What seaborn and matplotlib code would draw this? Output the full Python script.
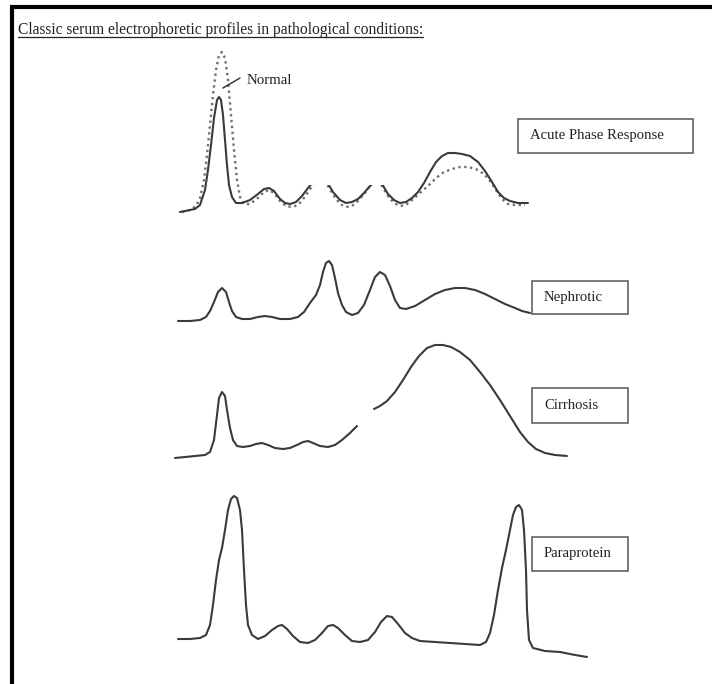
import numpy as np
import pandas as pd
import matplotlib.pyplot as plt
import seaborn as sns
from matplotlib.patches import Rectangle

# densitometry traces: x = migration position, h = signal above baseline
acute_x = [180, 185, 190, 195, 200, 205, 208, 211, 214, 217, 219, 221, 223, 225, 227, 229, 232, 236,
           242, 250, 258, 264, 269, 274, 280, 285, 290, 296, 302, 308, 313, 320, 327, 333, 340, 346,
           352, 358, 364, 370, 376, 382, 388, 394, 400, 406, 412, 418, 424, 430, 436, 442, 448, 455,
           462, 470, 478, 485, 492, 498, 504, 510, 518, 528]
acute_h = [0, 1, 2, 3, 7, 22, 42, 67, 94, 112, 115, 112, 97, 72, 47, 27, 15, 9,
           9, 12, 18, 23, 24, 21, 13, 9, 8, 10, 16, 24, 30, 34, 30, 20, 12, 9,
           10, 13, 19, 26, 32, 28, 18, 12, 9, 10, 14, 20, 29, 40, 50, 56, 59, 59,
           58, 56, 50, 41, 30, 20, 14, 11, 9, 9]

normal_x = [182, 190, 196, 200, 204, 207, 210, 213, 216, 219, 222, 225, 228, 231, 234, 237, 240, 244,
            250, 258, 264, 269, 274, 280, 286, 292, 298, 304, 310, 316, 322, 328, 334, 340, 346, 352,
            358, 364, 370, 376, 382, 388, 394, 400, 406, 412, 420, 428, 436, 444, 452, 460, 468, 476,
            484, 490, 496, 502, 508, 515, 525]
normal_h = [0, 2, 6, 14, 32, 57, 87, 117, 142, 157, 160, 154, 132, 97, 62, 32, 15, 8,
            8, 14, 20, 22, 19, 11, 6, 5, 7, 14, 23, 30, 32, 26, 16, 8, 5, 6,
            11, 18, 26, 31, 26, 16, 9, 6, 7, 12, 19, 26, 34, 40, 43, 45, 45, 43,
            38, 31, 22, 13, 8, 7, 7]

nephro_x = [178, 190, 200, 206, 210, 214, 218, 222, 226, 229, 232, 236, 242, 250, 258, 265, 272, 280,
            290, 298, 304, 310, 316, 320, 323, 326, 329, 332, 335, 338, 342, 346, 352, 358, 364, 370,
            375, 380, 385, 390, 395, 400, 406, 415, 425, 435, 445, 455, 465, 475, 485, 495, 505, 515,
            522, 530]
nephro_h = [0, 0, 1, 4, 10, 19, 29, 33, 29, 19, 10, 4, 2, 2, 4, 5, 4, 2,
            2, 4, 9, 18, 26, 36, 49, 58, 60, 56, 43, 28, 16, 9, 6, 8, 16, 31,
            44, 49, 46, 35, 21, 13, 12, 15, 21, 27, 31, 33, 33, 31, 27, 22, 17, 13,
            10, 8]

# NaN marks the gap in the scanned trace
cirr_x = [175, 185, 195, 205, 210, 214, 217, 219, 222, 225, 227, 230, 233, 237, 243, 250, 256, 262,
          268, 275, 283, 290, 297, 303, 308, 313, 320, 328, 335, 342, 350, 357, 365, 374, 380, 387,
          395, 403, 411, 419, 427, 435, 443, 451, 460, 470, 480, 490, 500, 510, 520, 528, 536, 545,
          555, 567]
cirr_h = [0, 1, 2, 3, 6, 18, 43, 60, 66, 62, 48, 30, 18, 12, 11, 12, 14, 15,
          13, 10, 9, 10, 13, 16, 17, 15, 12, 11, 13, 18, 25, 32, np.nan, 49, 52, 57,
          66, 78, 91, 102, 110, 113, 113, 111, 106, 98, 86, 73, 58, 42, 26, 16, 9, 5,
          3, 2]

para_x = [178, 190, 200, 206, 210, 213, 216, 219, 222, 225, 228, 231, 234, 237, 240, 242, 244, 246,
          248, 252, 258, 265, 272, 278, 282, 287, 293, 300, 308, 315, 322, 328, 333, 338, 345, 352,
          360, 368, 375, 381, 387, 392, 398, 405, 412, 420, 435, 450, 465, 480, 486, 490, 494, 498,
          502, 506, 510, 513, 516, 519, 522, 524, 526, 527, 529, 533, 545, 560, 575, 587]
para_h = [0, 0, 1, 4, 14, 34, 59, 79, 91, 109, 129, 140, 143, 141, 129, 109, 69, 34,
          14, 4, 0, 3, 9, 13, 14, 10, 3, -3, -4, -1, 6, 13, 14, 11, 4, -2,
          -3, -1, 7, 17, 23, 22, 15, 6, 1, -2, -3, -4, -5, -6, -3, 6, 24, 49,
          71, 89, 109, 124, 132, 134, 129, 109, 69, 29, -1, -9, -12, -13, -16, -18]

labels = ["Acute Phase Response", "Nephrotic", "Cirrhosis", "Paraprotein"]
title = "Classic serum electrophoretic profiles in pathological conditions:"

# layout (pixel rows of each trace baseline, label boxes)
BASES = [212, 321, 458, 639]
BOXES = [(518, 119, 175, 34), (532, 281, 96, 33), (532, 388, 96, 35), (532, 537, 96, 34)]
INK = "#3a3a3a"
SERIF = ["Liberation Serif", "DejaVu Serif"]


def trace_frame(xs, hs, base, name):
    df = pd.DataFrame({"x": xs, "h": hs})
    df["seg"] = df["h"].isna().cumsum()
    df = df.dropna()
    df["y"] = base - df["h"]
    df["trace"] = name
    return df


sns.set_style("white")
fig = plt.figure(figsize=(7.12, 6.84), dpi=100)
ax = fig.add_axes([0, 0, 1, 1])
ax.set_xlim(0, 712)
ax.set_ylim(684, 0)
ax.axis("off")

traces = [
    trace_frame(acute_x, acute_h, BASES[0], labels[0]),
    trace_frame(nephro_x, nephro_h, BASES[1], labels[1]),
    trace_frame(cirr_x, cirr_h, BASES[2], labels[2]),
    trace_frame(para_x, para_h, BASES[3], labels[3]),
]
normal = trace_frame(normal_x, normal_h, BASES[0], "Normal")

sns.lineplot(data=normal, x="x", y="y", units="seg", estimator=None, sort=False,
             color="#6f6f6f", lw=1.7, ls=(0, (1, 1.5)), ax=ax, legend=False)
for df in traces:
    sns.lineplot(data=df, x="x", y="y", units="seg", estimator=None, sort=False,
                 color=INK, lw=1.5, solid_joinstyle="round", ax=ax, legend=False)

# scan artefact: the small peaks of the top trace are cut off
ax.add_patch(Rectangle((283, 140), 125, 45, facecolor="white", edgecolor="none", zorder=5))

ax.plot([223, 240], [88, 78], color=INK, lw=1.1)
ax.text(247, 80, "Normal", family=SERIF, fontsize=10.7, va="center", ha="left", color="#222")

for (bx, by, bw, bh), lab in zip(BOXES, labels):
    ax.add_patch(Rectangle((bx, by), bw, bh, facecolor="white", edgecolor="#555", lw=1.1, zorder=6))
    ax.text(bx + 12, by + bh / 2, lab, family=SERIF, fontsize=10.6, va="center", ha="left",
            color="#222", zorder=7)

t = ax.text(18, 30, title, family=SERIF, fontsize=11.2, va="center", ha="left", color="#222")
fig.canvas.draw()
bb = t.get_window_extent().transformed(ax.transData.inverted())
ax.plot([bb.x0, bb.x1], [bb.y0 - 1, bb.y0 - 1], color="#222", lw=0.9)

# page frame
ax.plot([11.5, 11.5], [7, 684], color="black", lw=3, solid_capstyle="butt")
ax.plot([10, 712], [7, 7], color="black", lw=3, solid_capstyle="butt")

fig.savefig("out.png", dpi=100)
